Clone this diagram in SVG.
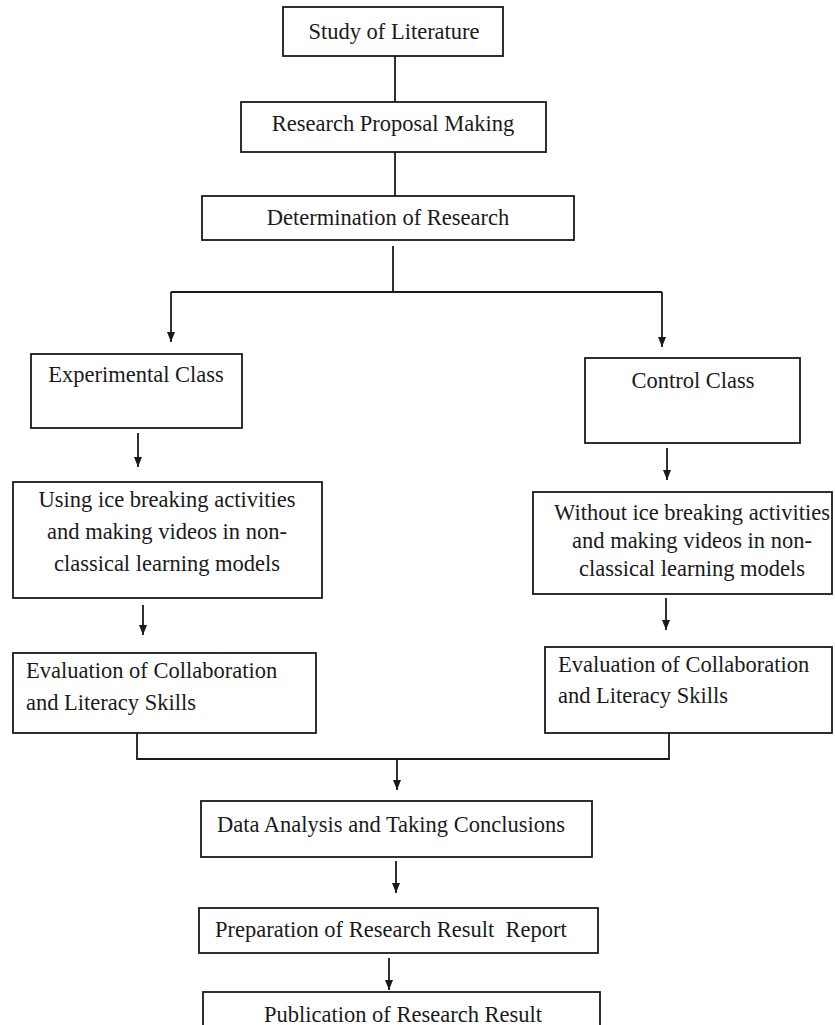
<svg xmlns="http://www.w3.org/2000/svg" width="835" height="1025" viewBox="0 0 835 1025">
<style>
.box{fill:#fff;stroke:#1a1a1a;stroke-width:1.8}
.ln{fill:none;stroke:#1a1a1a;stroke-width:1.8}
text{font-family:"Liberation Serif","Times New Roman",serif;font-size:22.5px;fill:#1a1a1a;white-space:pre}
.c{text-anchor:middle}
</style>
<defs>
<marker id="arr" viewBox="0 0 10 8" refX="10" refY="4" markerWidth="10" markerHeight="8" markerUnits="userSpaceOnUse" orient="auto">
<path d="M0,0 L10,4 L0,8 z" fill="#1a1a1a"/>
</marker>
</defs>
<rect width="835" height="1025" fill="#fff"/>
<g id="connectors">
<line class="ln" x1="395" y1="56" x2="395" y2="102"/>
<line class="ln" x1="395" y1="152" x2="395" y2="196"/>
<polyline class="ln" points="393,246 393,292"/>
<polyline class="ln" points="171,292 662,292"/>
<line class="ln" x1="171" y1="292" x2="171" y2="342" marker-end="url(#arr)"/>
<line class="ln" x1="662" y1="292" x2="662" y2="347" marker-end="url(#arr)"/>
<line class="ln" x1="138" y1="433" x2="138" y2="467" marker-end="url(#arr)"/>
<line class="ln" x1="667" y1="448" x2="667" y2="480" marker-end="url(#arr)"/>
<line class="ln" x1="143" y1="605" x2="143" y2="635" marker-end="url(#arr)"/>
<line class="ln" x1="666" y1="598" x2="666" y2="630" marker-end="url(#arr)"/>
<polyline class="ln" points="137,733 137,759 669,759 669,733"/>
<line class="ln" x1="397" y1="759" x2="397" y2="790" marker-end="url(#arr)"/>
<line class="ln" x1="396" y1="861" x2="396" y2="893" marker-end="url(#arr)"/>
<line class="ln" x1="389" y1="958" x2="389" y2="990" marker-end="url(#arr)"/>
</g>
<g id="study">
<rect class="box" x="283" y="7" width="220" height="49"/>
<text class="c" x="394" y="39">Study of Literature</text>
</g>
<g id="proposal">
<rect class="box" x="241" y="102" width="305" height="50"/>
<text class="c" x="393" y="131">Research Proposal Making</text>
</g>
<g id="determination">
<rect class="box" x="202" y="196" width="372" height="44"/>
<text class="c" x="388" y="225">Determination of Research</text>
</g>
<g id="experimental">
<rect class="box" x="31" y="354" width="211" height="74"/>
<text class="c" x="136" y="382">Experimental Class</text>
</g>
<g id="control">
<rect class="box" x="585" y="358" width="215" height="85"/>
<text class="c" x="693" y="388">Control Class</text>
</g>
<g id="using">
<rect class="box" x="13" y="482" width="309" height="116"/>
<text class="c" x="167" y="507">Using ice breaking activities</text>
<text class="c" x="167" y="539">and making videos in non-</text>
<text class="c" x="167" y="571">classical learning models</text>
</g>
<g id="without">
<rect class="box" x="533" y="492" width="299" height="102"/>
<text class="c" x="692" y="520">Without ice breaking activities</text>
<text class="c" x="692" y="548">and making videos in non-</text>
<text class="c" x="692" y="576">classical learning models</text>
</g>
<g id="eval-left">
<rect class="box" x="13" y="653" width="303" height="80"/>
<text x="26" y="678">Evaluation of Collaboration</text>
<text x="26" y="710">and Literacy Skills</text>
</g>
<g id="eval-right">
<rect class="box" x="545" y="647" width="287" height="86"/>
<text x="558" y="672">Evaluation of Collaboration</text>
<text x="558" y="703">and Literacy Skills</text>
</g>
<g id="data">
<rect class="box" x="201" y="801" width="391" height="56"/>
<text x="217" y="832">Data Analysis and Taking Conclusions</text>
</g>
<g id="preparation">
<rect class="box" x="199" y="908" width="399" height="45"/>
<text x="215" y="937">Preparation of Research Result  Report</text>
</g>
<g id="publication">
<rect class="box" x="203" y="992" width="397" height="50"/>
<text x="264" y="1022">Publication of Research Result</text>
</g>
</svg>
